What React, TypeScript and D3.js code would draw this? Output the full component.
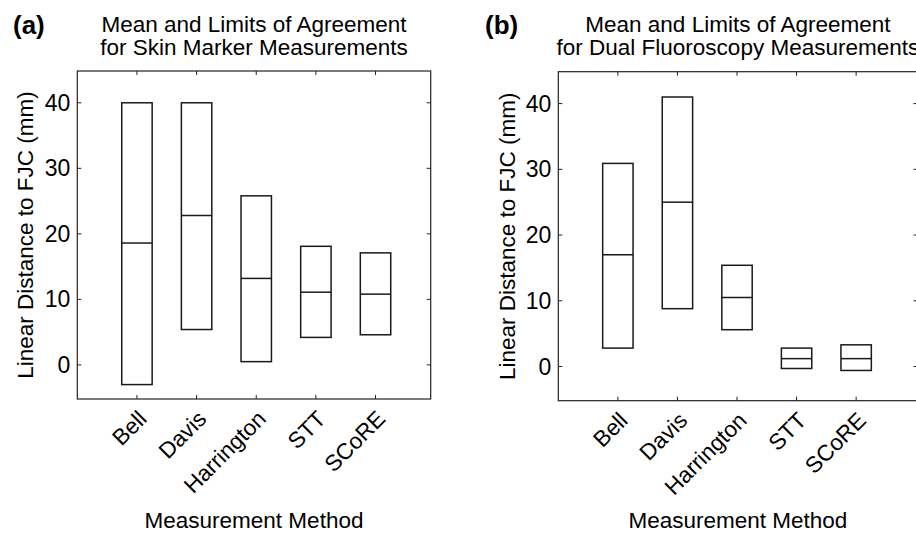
import React from "react";
import * as d3 from "d3";

const methods = ["Bell", "Davis", "Harrington", "STT", "SCoRE"];
const skinLower = [-3.0, 5.4, 0.5, 4.2, 4.6];
const skinMean = [18.6, 22.8, 13.2, 11.1, 10.8];
const skinUpper = [40.0, 40.0, 25.8, 18.1, 17.1];
const dfLower = [2.8, 8.8, 5.6, -0.3, -0.6];
const dfMean = [17.0, 25.0, 10.5, 1.2, 1.2];
const dfUpper = [30.9, 41.0, 15.4, 2.8, 3.3];
const yTicks = [0, 10, 20, 30, 40];

const FONT = "Liberation Sans, Arial, Helvetica, sans-serif";

type PanelProps = {
  tag: string;
  title1: string;
  title2: string;
  lower: number[];
  mean: number[];
  upper: number[];
  left: number;
  right: number;
  top: number;
  bottom: number;
  xMax: number;
  yLabelX: number;
  tagX: number;
};

function Panel(p: PanelProps) {
  const x = d3.scaleLinear().domain([0, p.xMax]).range([p.left, p.right]);
  const y = d3.scaleLinear().domain([-5.2, 44.85]).range([p.bottom, p.top]);
  const cx = (p.left + p.right) / 2;
  const cy = (p.top + p.bottom) / 2;
  const hw = 0.255;
  const tl = 4;
  return (
    <g>
      <text x={p.tagX} y={34} fontFamily={FONT} fontWeight="bold" fontSize={26}>
        {p.tag}
      </text>
      <text x={cx} y={31.5} textAnchor="middle" fontFamily={FONT} fontSize={22.5}>
        {p.title1}
      </text>
      <text x={cx} y={54.5} textAnchor="middle" fontFamily={FONT} fontSize={22.5}>
        {p.title2}
      </text>
      {methods.map((m, i) => {
        const xc = x(i + 1);
        return (
          <g key={m}>
            <rect
              x={x(i + 1 - hw)}
              y={y(p.upper[i])}
              width={x(i + 1 + hw) - x(i + 1 - hw)}
              height={y(p.lower[i]) - y(p.upper[i])}
              fill="none"
              stroke="#1a1a1a"
              strokeWidth={1.5}
            />
            <line
              x1={x(i + 1 - hw)}
              x2={x(i + 1 + hw)}
              y1={y(p.mean[i])}
              y2={y(p.mean[i])}
              stroke="#1a1a1a"
              strokeWidth={1.5}
            />
            <line x1={xc} x2={xc} y1={p.bottom} y2={p.bottom - tl} stroke="#222" strokeWidth={1} />
            <line x1={xc} x2={xc} y1={p.top} y2={p.top + tl} stroke="#222" strokeWidth={1} />
            <text
              transform={`translate(${xc + 7},${p.bottom + 17}) rotate(-45)`}
              textAnchor="end"
              dominantBaseline="middle"
              fontFamily={FONT}
              fontSize={22.5}
            >
              {m}
            </text>
          </g>
        );
      })}
      {yTicks.map((t) => (
        <g key={t}>
          <line x1={p.left} x2={p.left + tl} y1={y(t)} y2={y(t)} stroke="#222" strokeWidth={1} />
          <line x1={p.right} x2={p.right - tl} y1={y(t)} y2={y(t)} stroke="#222" strokeWidth={1} />
          <text
            x={p.left - 7}
            y={y(t)}
            textAnchor="end"
            dominantBaseline="central"
            fontFamily={FONT}
            fontSize={23}
          >
            {t}
          </text>
        </g>
      ))}
      <rect
        x={p.left}
        y={p.top}
        width={p.right - p.left}
        height={p.bottom - p.top}
        fill="none"
        stroke="#222"
        strokeWidth={1.2}
      />
      <text
        transform={`translate(${p.yLabelX},${cy}) rotate(-90)`}
        textAnchor="middle"
        fontFamily={FONT}
        fontSize={22.5}
      >
        Linear Distance to FJC (mm)
      </text>
      <text x={cx} y={528} textAnchor="middle" fontFamily={FONT} fontSize={22.5}>
        Measurement Method
      </text>
    </g>
  );
}

export default function App() {
  return (
    <svg
      width={916}
      height={533}
      style={{ position: "absolute", left: 0, top: 0, background: "#fff" }}
    >
      <rect x={0} y={0} width={916} height={533} fill="#fff" />
      <Panel
        tag="(a)"
        title1="Mean and Limits of Agreement"
        title2="for Skin Marker Measurements"
        lower={skinLower}
        mean={skinMean}
        upper={skinUpper}
        left={77.3}
        right={430.7}
        top={71}
        bottom={399}
        xMax={5.925}
        yLabelX={33}
        tagX={13}
      />
      <Panel
        tag="(b)"
        title1="Mean and Limits of Agreement"
        title2="for Dual Fluoroscopy Measurements"
        lower={dfLower}
        mean={dfMean}
        upper={dfUpper}
        left={558.3}
        right={917.5}
        top={71.7}
        bottom={400.7}
        xMax={6.03}
        yLabelX={515}
        tagX={485}
      />
    </svg>
  );
}
